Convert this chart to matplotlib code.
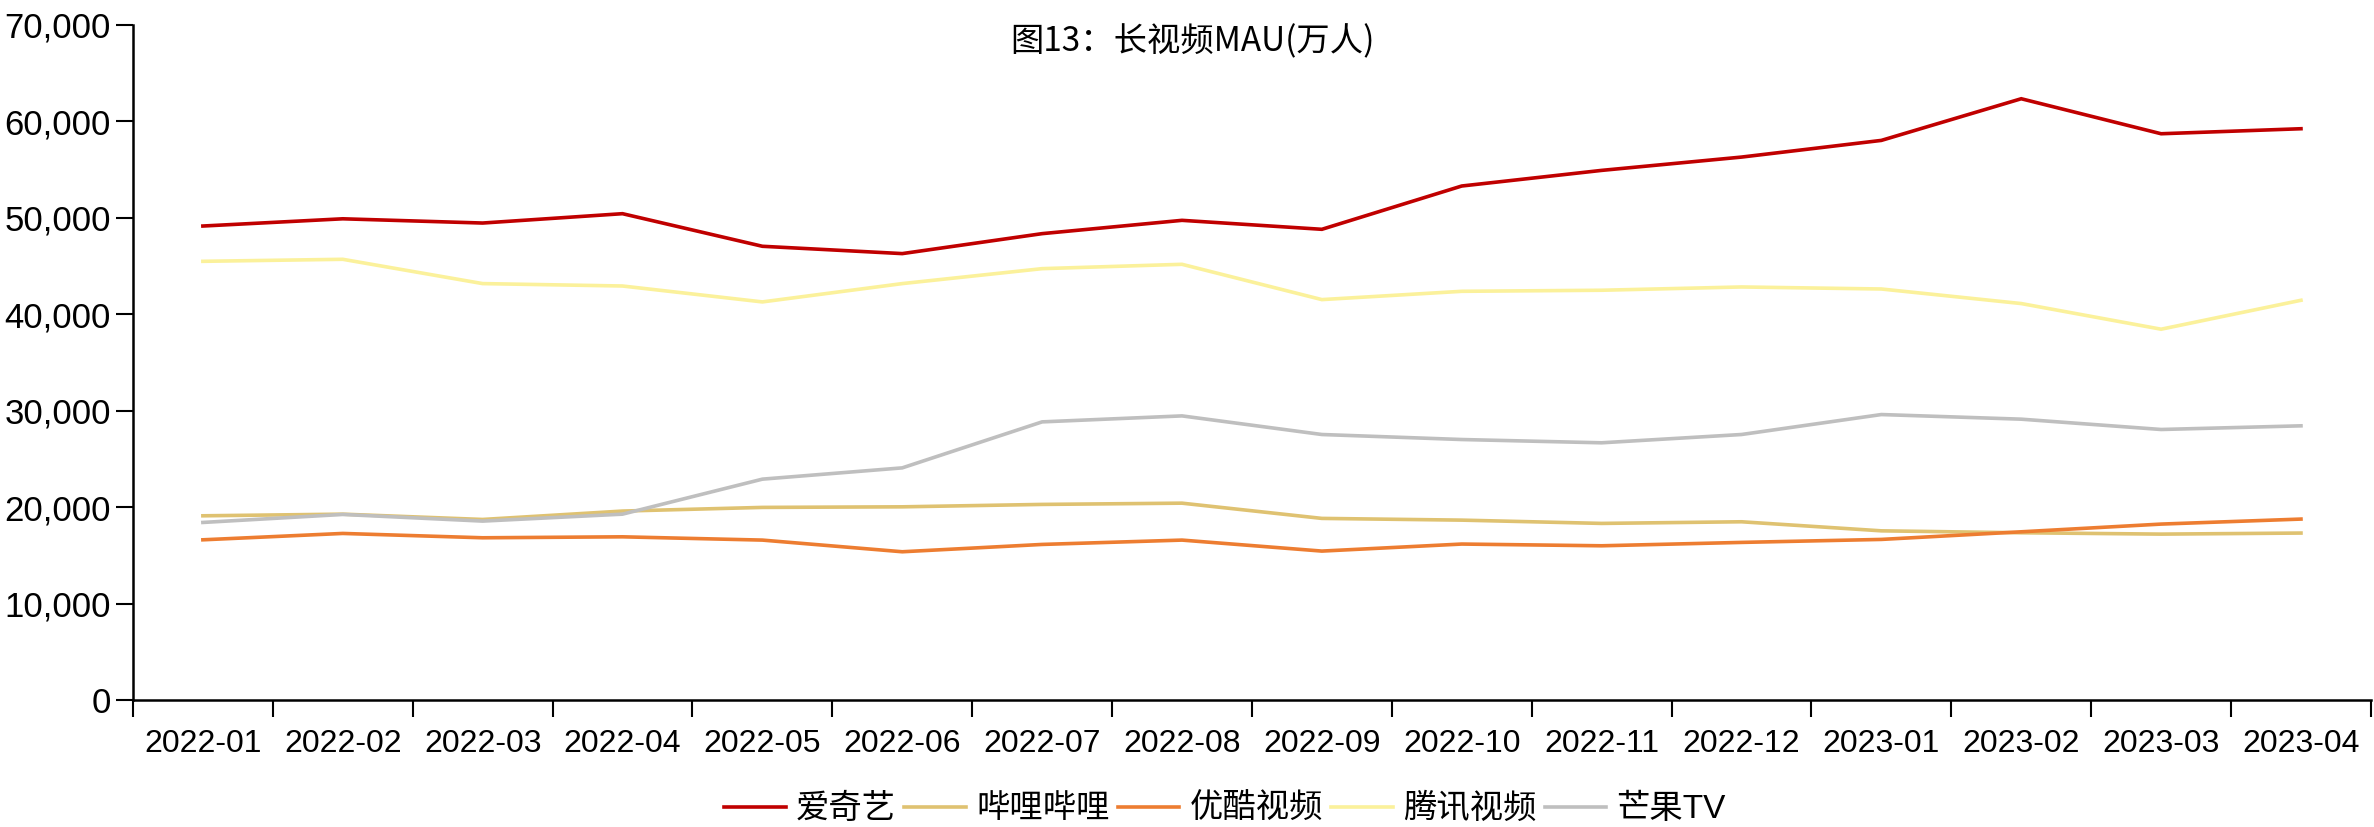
import numpy as np
import matplotlib
matplotlib.use("Agg")
import matplotlib.pyplot as plt
from matplotlib.ticker import FuncFormatter, FixedLocator

plt.rcParams['font.family'] = ['Liberation Sans', 'Noto Sans CJK SC', 'DejaVu Sans']

months = ['2022-01', '2022-02', '2022-03', '2022-04', '2022-05', '2022-06',
          '2022-07', '2022-08', '2022-09', '2022-10', '2022-11', '2022-12',
          '2023-01', '2023-02', '2023-03', '2023-04']

iqiyi = [49150, 49900, 49460, 50430, 47050, 46290, 48360, 49740,
         48810, 53300, 54920, 56300, 58030, 62350, 58720, 59240]
bilibili = [19100, 19270, 18720, 19590, 19970, 20030, 20280, 20410,
            18830, 18650, 18310, 18480, 17540, 17340, 17200, 17310]
youku = [16610, 17270, 16820, 16920, 16580, 15370, 16130, 16580,
         15440, 16170, 15990, 16340, 16650, 17440, 18240, 18760]
tencent = [45490, 45700, 43180, 42930, 41280, 43180, 44730, 45180,
           41520, 42380, 42490, 42830, 42620, 41110, 38450, 41450]
mango = [18410, 19240, 18550, 19270, 22900, 24070, 28840, 29460,
         27530, 27010, 26670, 27530, 29600, 29120, 28050, 28430]

series = [
    ('爱奇艺', iqiyi, '#C00000'),
    ('哔哩哔哩', bilibili, '#DFC271'),
    ('优酷视频', youku, '#ED7D31'),
    ('腾讯视频', tencent, '#FBF19B'),
    ('芒果TV', mango, '#BFBFBF'),
]

fig = plt.figure(figsize=(23.74, 8.27), dpi=100)
ax = fig.add_axes([0.056, 0.1536, 0.9427, 0.8162])

x = np.arange(len(months))
for name, vals, col in series:
    ax.plot(x, vals, color=col, lw=2.6, label=name, solid_joinstyle='miter')

ax.set_xlim(-0.5, len(months) - 0.5)
ax.set_ylim(0, 70000)
ax.set_yticks(np.arange(0, 70001, 10000))
ax.yaxis.set_major_formatter(FuncFormatter(lambda v, p: f'{int(v):,}'))

# ticks between categories, labels at category centres
ax.xaxis.set_major_locator(FixedLocator(np.arange(-0.5, len(months), 1)))
ax.xaxis.set_minor_locator(FixedLocator(x))
ax.set_xticklabels([], minor=False)
ax.set_xticklabels(months, minor=True)
ax.tick_params(axis='x', which='major', length=12, width=1.5, direction='out')
ax.tick_params(axis='x', which='minor', length=0, pad=21, labelsize=23)
ax.tick_params(axis='y', length=12, width=1.5, labelsize=25, pad=4)

for s in ['top', 'right']:
    ax.spines[s].set_visible(False)
for s in ['left', 'bottom']:
    ax.spines[s].set_linewidth(1.8)

ax.text(0.4736, 0.975, '图13：长视频MAU(万人)', transform=ax.transAxes,
        ha='center', va='center', fontsize=24,
        family=['Noto Sans CJK SC', 'DejaVu Sans'])

fig.legend(loc='center', bbox_to_anchor=(0.516, 0.021), ncol=5, frameon=False,
           prop={'family': ['Liberation Sans', 'Noto Sans CJK SC'], 'size': 24},
           handlelength=1.85, handletextpad=0.3, columnspacing=0.25,
           borderpad=0.1)

fig.savefig('out.png', dpi=100)
